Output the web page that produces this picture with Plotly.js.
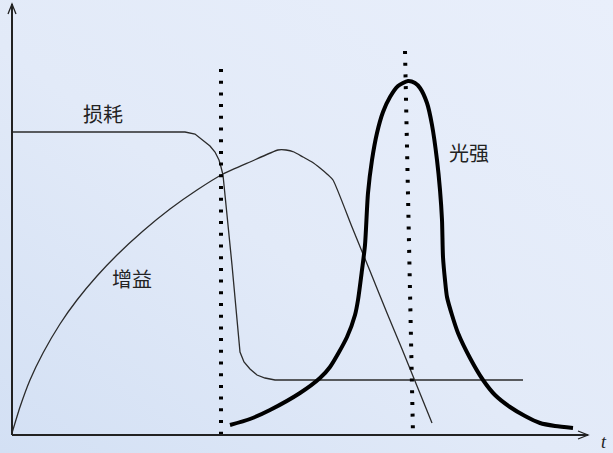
<!DOCTYPE html>
<html>
<head>
<meta charset="utf-8">
<script src="https://cdn.plot.ly/plotly-3.0.1.min.js"></script>
<style>
  html, body { margin: 0; padding: 0; }
  #chart { width: 613px; height: 453px; }
</style>
</head>
<body>
<div id="chart"></div>
<script>
// time axis (t) and levels; origin is where the axes meet
var lossT = [0, 173, 183, 191, 198, 203, 207, 209, 211, 220, 228, 232, 238, 245, 253, 263, 273, 511];
var lossY = [303, 303, 301, 295, 289, 283, 275, 268, 260, 170, 83, 73, 66, 60, 57, 55, 55, 55];

var gainT = [0, 8, 18, 31, 48, 65, 85, 105, 131, 158, 185, 211, 238, 266, 274, 282, 291, 300, 308, 315, 321, 340, 358, 375, 390, 405, 420];
var gainY = [2, 28, 55, 82, 111, 135, 159, 180, 204, 226, 245, 261, 273, 285, 285, 283, 278, 273, 267, 261, 255, 208, 164, 122, 86, 49, 12];

var lightT = [218, 238, 258, 288, 308, 318, 335, 343, 346, 350, 353, 356, 360, 365, 371, 378, 386, 396,
              403, 408, 415, 420, 425, 428, 430, 431, 433, 435, 440, 446, 458, 471, 483, 498, 513, 528, 543, 561];
var lightY = [10, 16, 25, 42, 57, 68, 98, 120, 135, 165, 190, 242, 275, 302, 323, 338, 349, 354,
              352, 347, 332, 310, 275, 245, 215, 178, 155, 138, 120, 102, 77, 55, 40, 28, 19, 12, 9, 7];

// the two dotted marker lines (switch moment and pulse peak)
var mark1T = [209, 209];
var mark1Y = [366, 0];
var mark2T = [393, 401];
var mark2Y = [384, 0];

var labels = ['损耗', '增益', '光强'];
var labelT = [91, 120, 457];
var labelY = [322, 157, 283];

var thin = {color: '#2b2b2b', width: 1.3};

var data = [
  {x: lossT, y: lossY, mode: 'lines', line: thin, hoverinfo: 'skip'},
  {x: gainT, y: gainY, mode: 'lines', line: Object.assign({shape: 'spline', smoothing: 0.5}, thin), hoverinfo: 'skip'},
  {x: lightT, y: lightY, mode: 'lines', line: {color: '#000', width: 4, shape: 'spline', smoothing: 0.7}, hoverinfo: 'skip'},
  {x: mark1T, y: mark1Y, mode: 'lines', line: {color: '#000', width: 4, dash: '3px,8.7px'}, hoverinfo: 'skip'},
  {x: mark2T, y: mark2Y, mode: 'lines', line: {color: '#000', width: 4, dash: '3px,8.7px'}, hoverinfo: 'skip'}
];

var annots = labels.map(function (s, i) {
  return {x: labelT[i], y: labelY[i], text: s, showarrow: false,
          font: {family: 'Noto Sans CJK SC', size: 20, color: '#222'}};
});
annots.push({x: 592, y: -7, text: '<i>t</i>', showarrow: false,
             font: {family: 'Liberation Serif', size: 18, color: '#222'}});

var axisLine = {color: '#222', width: 2};
var shapes = [
  {type: 'line', x0: 0, y0: 0, x1: 0, y1: 431, line: axisLine},
  {type: 'line', x0: 0, y0: 0, x1: 576, y1: 0, line: axisLine},
  {type: 'path', path: 'M -4,421 L 0,431 L 4,421', line: {color: '#222', width: 1.3}},
  {type: 'path', path: 'M 566,-4 L 576,0 L 566,4', line: {color: '#222', width: 1.3}}
];

// soft blue backdrop like the slide
var bg = 'data:image/svg+xml;utf8,' + encodeURIComponent(
  '<svg xmlns="http://www.w3.org/2000/svg" width="613" height="453">' +
  '<defs><linearGradient id="g" x1="1" y1="0" x2="0" y2="1">' +
  '<stop offset="0" stop-color="#e9effb"/><stop offset="0.55" stop-color="#e2eaf8"/>' +
  '<stop offset="1" stop-color="#d3e0f4"/></linearGradient></defs>' +
  '<rect width="613" height="453" fill="url(#g)"/></svg>');

var layout = {
  width: 613,
  height: 453,
  margin: {l: 0, r: 0, t: 0, b: 0},
  paper_bgcolor: '#e4ebf8',
  plot_bgcolor: 'rgba(0,0,0,0)',
  showlegend: false,
  xaxis: {range: [-12, 601], visible: false, fixedrange: true},
  yaxis: {range: [-18, 435], visible: false, fixedrange: true},
  annotations: annots,
  shapes: shapes,
  images: [{source: bg, xref: 'paper', yref: 'paper', x: 0, y: 1, sizex: 1, sizey: 1,
            sizing: 'stretch', layer: 'below'}]
};

Plotly.newPlot('chart', data, layout, {staticPlot: true, displayModeBar: false});
</script>
</body>
</html>
